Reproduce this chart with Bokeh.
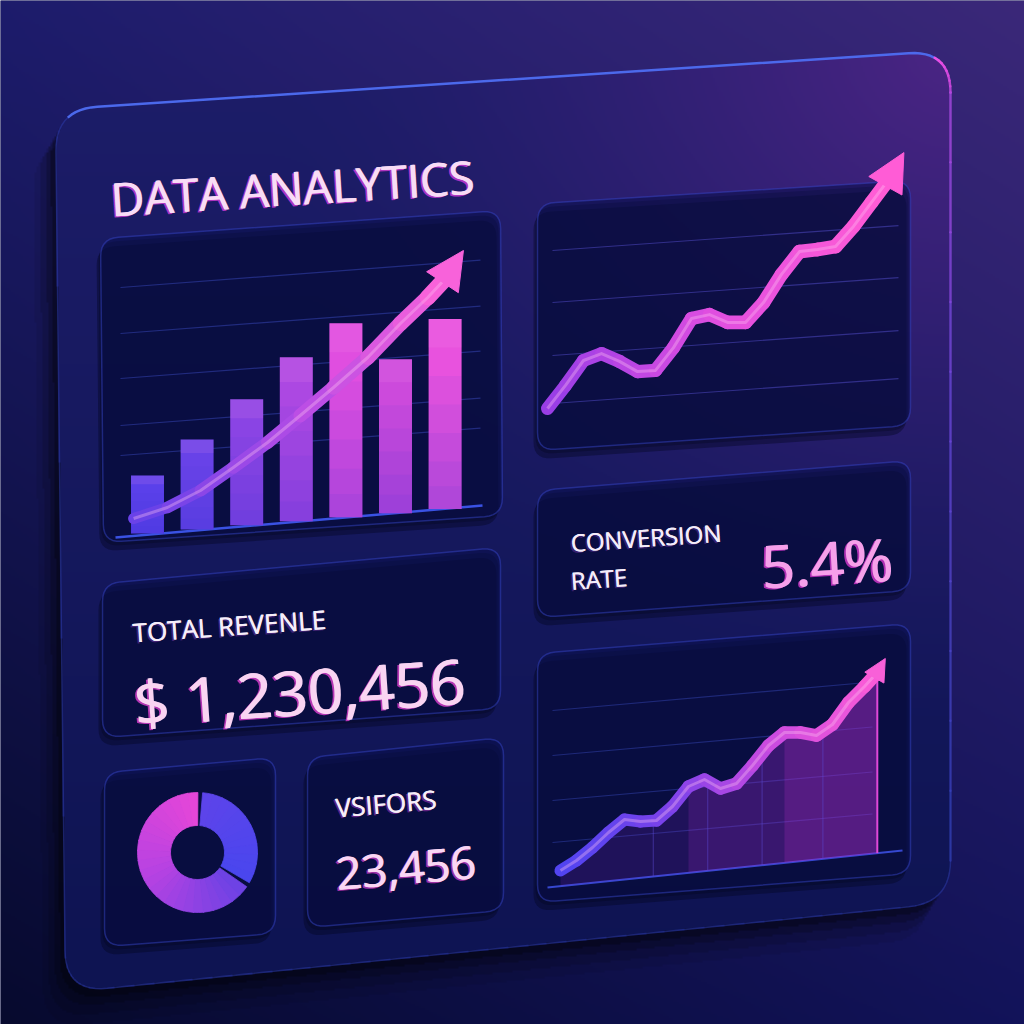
import numpy as np
from bokeh.plotting import figure
from bokeh.models import Range1d, ColumnDataSource, Arrow, NormalHead
from bokeh.core.properties import value
from bokeh.embed import file_html
from bokeh.resources import INLINE

# ------------------------------------------------------------------ data
title_text = "DATA ANALYTICS"

bar_index = [0, 1, 2, 3, 4, 5, 6]
bar_values = [29, 45, 63, 82, 97, 77, 95]

trend_x = [-0.28, 0.40, 1.07, 1.73, 2.42, 3.08, 3.75, 4.44, 5.10, 5.65, 5.97]
trend_y = [7.5, 13, 21.5, 33, 45.5, 59, 73, 88, 105, 118, 126.5]
trend_tip = [6.37, 141.5]

growth_x = list(range(20))
growth_values = [14, 21.7, 30, 32.3, 29.7, 26.3, 26.7, 34.3, 44, 45.3,
                 42.7, 42.7, 49.3, 58.7, 66.3, 67, 68, 74.7, 82.7, 90.7]
growth_tip = [19.8, 99.3]

area_x = list(range(20)) + [19.8]
area_values = [5, 10, 16.5, 24, 30.5, 29.5, 30, 37, 47, 50.5,
               46, 48.5, 57.5, 67.5, 74, 74, 72.5, 78, 89, 97, 104]
area_tip = [20.3, 111]

donut_shares = [66.7, 33.3]

revenue_label = "TOTAL REVENLE"
revenue_value = "$ 1,230,456"
conversion_label = ["CONVERSION", "RATE"]
conversion_value = "5.4%"
visitors_label = "VSIFORS"
visitors_value = "23,456"

# ------------------------------------------------------------------ helpers
W = H = 1024
FONT = value("Open Sans")


def hx(h):
    h = h.lstrip("#")
    return np.array([int(h[i:i + 2], 16) for i in (0, 2, 4)], dtype=float)


def to_hex(c):
    c = np.clip(np.round(c), 0, 255).astype(int)
    return "#%02x%02x%02x" % tuple(c)


def grad(stops, t):
    t = min(max(t, 0.0), 1.0)
    n = len(stops) - 1
    k = min(int(t * n), n - 1)
    f = t * n - k
    return to_hex(hx(stops[k]) * (1 - f) + hx(stops[k + 1]) * f)


def rounded_quad(corners, r, n=10):
    pts = []
    m = len(corners)
    for k in range(m):
        p0 = np.array(corners[k - 1], float)
        p1 = np.array(corners[k], float)
        p2 = np.array(corners[(k + 1) % m], float)
        d1 = (p0 - p1) / np.linalg.norm(p0 - p1)
        d2 = (p2 - p1) / np.linalg.norm(p2 - p1)
        a = p1 + d1 * r
        b = p1 + d2 * r
        for t in np.linspace(0, 1, n):
            pts.append((1 - t) ** 2 * a + 2 * (1 - t) * t * p1 + t ** 2 * b)
    return np.array(pts)


def inside(px, py, poly):
    res = np.zeros(px.shape, dtype=bool)
    n = len(poly)
    for k in range(n):
        x1, y1 = poly[k]
        x2, y2 = poly[(k + 1) % n]
        cond = ((y1 > py) != (y2 > py)) & (px < (x2 - x1) * (py - y1) / (y2 - y1 + 1e-12) + x1)
        res ^= cond
    return res


def xr(sx_a, v_a, sx_b, v_b):
    k = (v_b - v_a) / (sx_b - sx_a)
    return Range1d(start=v_a + (0 - sx_a) * k, end=v_a + (W - sx_a) * k)


def yr(sy_a, v_a, sy_b, v_b):
    Ya, Yb = H - sy_a, H - sy_b
    k = (v_b - v_a) / (Yb - Ya)
    return Range1d(start=v_a + (0 - Ya) * k, end=v_a + (H - Ya) * k)


# ------------------------------------------------------------------ figure
p = figure(width=W, height=H, x_range=Range1d(0, W), y_range=Range1d(0, H),
           output_backend="svg", toolbar_location=None,
           x_axis_location=None, y_axis_location=None, min_border=0)
p.grid.visible = False
p.outline_line_color = None
p.background_fill_color = "#141650"
p.border_fill_color = "#141650"

p.extra_x_ranges = {"bx": xr(147, 0, 196.6, 1), "lx": xr(547, 0, 565, 1), "ax": xr(560, 0, 576, 1)}
p.extra_y_ranges = {"by": yr(533, 0, 531, 1), "ly": yr(450, 0, 447, 1), "ay": yr(880, 0, 878, 1)}

# ------------------------------------------------------------------ raster background + board
N = 512
s = W / N
jj, ii = np.meshgrid(np.arange(N), np.arange(N))
SX = (jj + 0.5) * s
SY = (ii + 0.5) * s
u = (SX / W)[..., None]
v = (SY / H)[..., None]
bg = ((1 - u) * (1 - v) * hx("#1d1c6c") + u * (1 - v) * hx("#3b2879")
      + (1 - u) * v * hx("#070a2e") + u * v * hx("#12135a"))

board_corners = [(55, 109), (950, 50), (950, 902), (65, 992)]
NA = 14
board_poly = rounded_quad(board_corners, 42, NA)
mask = inside(SX, SY, board_poly)
shadow = np.zeros(SX.shape)
for dx, dy, a in [(-5, 8, 0.18), (-10, 16, 0.16), (-16, 26, 0.12), (-22, 36, 0.08)]:
    shadow += a * inside(SX - dx, SY - dy, board_poly)
bg = bg * (1 - np.clip(shadow, 0, 0.6))[..., None]

vt = np.clip((SY - 50) / 940, 0, 1)[..., None]
board = hx("#1d1d69") * (1 - vt) + hx("#0e1452") * vt
dist = np.sqrt((SX - 960) ** 2 + (SY - 40) ** 2)
w = (np.clip(1 - dist / 700, 0, 1) ** 1.5)[..., None]
board = board * (1 - w) + hx("#4c2585") * w
img3 = np.where(mask[..., None], board, bg)
img3 = np.flipud(np.clip(img3, 0, 255).astype(np.uint8))
img = np.empty((N, N), dtype=np.uint32)
view = img.view(dtype=np.uint8).reshape((N, N, 4))
view[..., 0] = img3[..., 0]
view[..., 1] = img3[..., 1]
view[..., 2] = img3[..., 2]
view[..., 3] = 255
p.image_rgba(image=[img], x=0, y=0, dw=W, dh=H)

# board outline and edge highlights
p.patch(board_poly[:, 0], H - board_poly[:, 1], fill_alpha=0, line_color="#2c3aa8",
        line_alpha=0.55, line_width=1.5)
top_pts = board_poly[NA // 2: NA + NA // 2]
p.line(top_pts[:, 0], H - top_pts[:, 1], line_color="#5070f6", line_width=2.5, line_alpha=0.9)
edge = np.vstack([board_poly[NA + NA // 2 - 2: 2 * NA],
                  np.column_stack([np.full(12, 950.0), np.linspace(92, 860, 12)])])
ne = len(edge) - 1
p.segment(x0=edge[:-1, 0], y0=H - edge[:-1, 1], x1=edge[1:, 0], y1=H - edge[1:, 1],
          line_color=[grad(["#ee50e6", "#d448de", "#7a48e0", "#3a48c8"], i / (ne - 1)) for i in range(ne)],
          line_alpha=list(np.linspace(1.0, 0.45, ne)), line_width=2.5, line_cap="round")

# ------------------------------------------------------------------ cards
cards = [
    [(100, 238), (500, 210), (502, 515), (103, 542)],
    [(537, 203), (910, 180), (910, 425), (537, 450)],
    [(537, 490), (910, 460), (910, 590), (537, 617)],
    [(102, 583), (500, 547), (500, 708), (102, 737)],
    [(104, 772), (275, 757), (275, 933), (104, 946)],
    [(307, 757), (503, 737), (503, 910), (307, 927)],
    [(537, 653), (910, 623), (910, 873), (537, 902)],
]
polys = [rounded_quad(c, 18, 8) for c in cards]
p.patches([list(q[:, 0] - 4) for q in polys], [list(H - q[:, 1] - 9) for q in polys],
          fill_color="#03051c", fill_alpha=0.38, line_alpha=0)
p.patches([list(q[:, 0] - 2) for q in polys], [list(H - q[:, 1] - 4) for q in polys],
          fill_color="#03051c", fill_alpha=0.3, line_alpha=0)
p.patches([list(q[:, 0]) for q in polys], [list(H - q[:, 1]) for q in polys],
          fill_color="#0a0e4a", fill_alpha=0.55, line_color="#3a4ad0", line_alpha=0.45, line_width=1.5)


def hlines(x0, x1, ys_left, slope, color="#3444b0", alpha=0.55, width=1.2):
    xs, ys = [], []
    for yl in ys_left:
        xs.append([x0, x1])
        ys.append([H - yl, H - (yl - slope * (x1 - x0))])
    p.multi_line(xs, ys, line_color=color, line_alpha=alpha, line_width=width)


# ------------------------------------------------------------------ bar chart
hlines(120, 480, [287, 333, 378, 425, 455], 0.076)
p.line([115, 482], [H - 537, H - 505], line_color="#3a52e4", line_width=2.5)

bar_tilt = [2.035 * i for i in bar_index]
bar_colors = ["#5a40ea", "#6842e8", "#8a44e4", "#ac48e2", "#e04ee0", "#cc4adc", "#e852de"]
bsrc = ColumnDataSource(dict(
    x=bar_index, bottom=bar_tilt,
    top=[b + v_ for b, v_ in zip(bar_tilt, bar_values)],
    color=bar_colors))
p.vbar(x="x", bottom="bottom", top="top", width=0.665, fill_color="color", line_color=None,
       source=bsrc, x_range_name="bx", y_range_name="by")
for f, a in [(0.7, 0.07), (0.55, 0.07), (0.4, 0.08), (0.25, 0.08), (0.12, 0.08)]:
    p.vbar(x=bar_index, bottom=bar_tilt, top=[b + f * v_ for b, v_ in zip(bar_tilt, bar_values)],
           width=0.665, fill_color="#4434d4", fill_alpha=a, line_color=None,
           x_range_name="bx", y_range_name="by")
p.vbar(x=bar_index, bottom=[b + 0.85 * v_ for b, v_ in zip(bar_tilt, bar_values)],
       top=[b + v_ for b, v_ in zip(bar_tilt, bar_values)], width=0.665,
       fill_color="#ff9cf0", fill_alpha=0.12, line_color=None, x_range_name="bx", y_range_name="by")


def grad_line(xs, ys, stops, w0, w1, xname, yname, hl=True):
    xs = np.asarray(xs, float)
    ys = np.asarray(ys, float)
    n = len(xs) - 1
    cols = [grad(stops, k / max(n - 1, 1)) for k in range(n)]
    ws = list(np.linspace(w0, w1, n))
    p.segment(x0=xs[:-1], y0=ys[:-1], x1=xs[1:], y1=ys[1:], line_color=cols, line_width=ws,
              line_cap="round", x_range_name=xname, y_range_name=yname)
    if hl:
        p.line(xs, ys, line_color="#ffc4f4", line_alpha=0.35, line_width=3, line_join="round",
               x_range_name=xname, y_range_name=yname)


def arrow_head(x0, y0, tip, color, size, width, xname, yname):
    p.add_layout(Arrow(end=NormalHead(size=size, fill_color=color, line_color=color),
                       x_start=x0, y_start=y0, x_end=tip[0], y_end=tip[1],
                       line_color=color, line_width=width, x_range_name=xname, y_range_name=yname))


grad_line(trend_x, trend_y, ["#6a42e8", "#b44ce6", "#f862da"], 11, 16, "bx", "by")
arrow_head(trend_x[-1], trend_y[-1], trend_tip, "#f862da", 38, 10, "bx", "by")

# ------------------------------------------------------------------ growth line chart
hlines(552, 898, [250, 302, 355, 403], 0.072, color="#4a44b8", alpha=0.6)
grad_line(growth_x, growth_values, ["#9a3ee6", "#e04ee0", "#ff5cd6"], 13, 14, "lx", "ly")
arrow_head(growth_x[-1], growth_values[-1], growth_tip, "#ff5cd6", 38, 10, "lx", "ly")

# ------------------------------------------------------------------ area chart
hlines(552, 872, [710, 755, 800, 842], 0.089, color="#3444b0", alpha=0.5)
p.line([547, 902], [H - 887, H - 850], line_color="#3648d0", line_width=2)


def area_floor(xv):
    sx = 560 + 16 * np.asarray(xv, float)
    sy = 887 - 0.104 * (sx - 547)
    return (880 - sy) / 2


ax_ = np.asarray(area_x, float)
av_ = np.asarray(area_values, float)
floor = area_floor(ax_)
p.varea(x=ax_, y1=floor, y2=av_, fill_color="#8a2ed0", fill_alpha=0.18,
        x_range_name="ax", y_range_name="ay")
sel = ax_ >= 8
p.varea(x=ax_[sel], y1=floor[sel], y2=av_[sel], fill_color="#b030d0", fill_alpha=0.18,
        x_range_name="ax", y_range_name="ay")
sel = ax_ >= 14
p.varea(x=ax_[sel], y1=floor[sel], y2=av_[sel], fill_color="#c830d0", fill_alpha=0.2,
        x_range_name="ax", y_range_name="ay")
vg = np.array([5.8, 9.2, 12.6, 16.4])
p.segment(x0=vg, y0=area_floor(vg), x1=vg, y1=np.interp(vg, ax_, av_) - 2,
          line_color="#5a4ad0", line_alpha=0.45, line_width=1.2, x_range_name="ax", y_range_name="ay")
p.segment(x0=[ax_[-1]], y0=[floor[-1]], x1=[ax_[-1]], y1=[av_[-1]], line_color="#e048d8",
          line_width=2, x_range_name="ax", y_range_name="ay")
grad_line(area_x, area_values, ["#5244f0", "#7a42ea", "#c84ae0", "#f85ad8"], 12, 13, "ax", "ay")
arrow_head(area_x[-1], area_values[-1], area_tip, "#f860d8", 22, 6, "ax", "ay")

# ------------------------------------------------------------------ donut
cx, cy = 197, H - 852
start = np.deg2rad(87)
gap = np.deg2rad(2.6)
angles = np.cumsum([0] + [s_ / 100 * 2 * np.pi for s_ in donut_shares]) + start
a0, a1 = angles[0] + gap, angles[1] - gap
k = 24
edges = np.linspace(a0, a1, k + 1)
pc = [grad(["#e446d8", "#b642e2", "#6e42e4"], i / (k - 1)) for i in range(k)]
p.annular_wedge(x=[cx] * k, y=[cy] * k, inner_radius=27, outer_radius=60,
                start_angle=list(edges[:-1]), end_angle=list(edges[1:] + 0.012),
                fill_color=pc, line_color=pc, line_width=0.8)
b0, b1 = angles[1] + gap, angles[2] - gap
k2 = 12
edges = np.linspace(b0, b1, k2 + 1)
bc = [grad(["#4a46ee", "#5c44ea"], i / (k2 - 1)) for i in range(k2)]
p.annular_wedge(x=[cx] * k2, y=[cy] * k2, inner_radius=27, outer_radius=60,
                start_angle=list(edges[:-1]), end_angle=list(edges[1:] + 0.012),
                fill_color=bc, line_color=bc, line_width=0.8)


# ------------------------------------------------------------------ texts
def txt(t, sx, sy, size, color, angle, glow=None, glow_alpha=0.6, heavy=0.0):
    if glow:
        p.text(x=[sx - 1.6], y=[H - sy - 1.4], text=[t], angle=angle, text_font=FONT,
               text_font_size=f"{size}px", text_color=glow, text_alpha=glow_alpha,
               text_align="left", text_baseline="alphabetic")
    offs = [0.0] if heavy <= 0 else [0.0, heavy]
    for o in offs:
        p.text(x=[sx + o], y=[H - sy], text=[t], angle=angle, text_font=FONT,
               text_font_size=f"{size}px", text_color=color,
               text_align="left", text_baseline="alphabetic")


txt(title_text, 110, 198, 46, "#f8dcf6", 0.0625, glow="#c93ad2", glow_alpha=0.85, heavy=1.0)
txt(revenue_label, 132, 632, 26, "#f6eefa", 0.07, glow="#b050d8", glow_alpha=0.35, heavy=0.5)
txt(revenue_value, 133, 702, 62, "#f9d4f2", 0.069, glow="#e040d0", glow_alpha=0.8, heavy=1.2)
txt(conversion_label[0], 570, 542, 24, "#f4ecfa", 0.068, glow="#b050d8", glow_alpha=0.3, heavy=0.5)
txt(conversion_label[1], 570, 580, 24, "#f4ecfa", 0.068, glow="#b050d8", glow_alpha=0.3, heavy=0.5)
txt(conversion_value, 760, 565, 59, "#f6a0ea", 0.06, glow="#d838d0", glow_alpha=0.8, heavy=1.2)
txt(visitors_label, 335, 807, 26, "#f6eefa", 0.085, glow="#d040d8", glow_alpha=0.45, heavy=0.5)
txt(visitors_value, 335, 873, 45, "#f9d6f4", 0.085, glow="#e040d0", glow_alpha=0.7, heavy=1.0)

open("out.html", "w").write(file_html(p, INLINE))
